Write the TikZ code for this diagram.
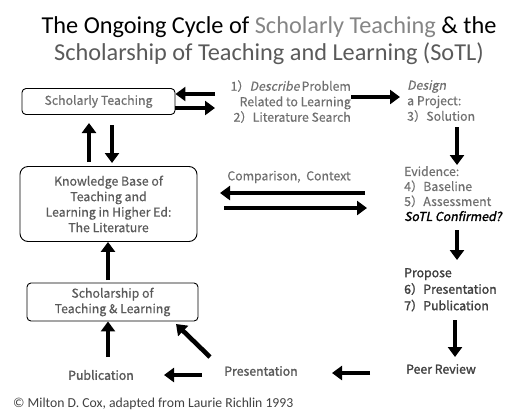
\documentclass[tikz,border=0pt]{standalone}
\usepackage{fontspec}
\setmainfont{Carlito}
\newfontfamily\gothic{Noto Sans CJK JP}[
  UprightFeatures={FakeBold=0.5},
  ItalicFont=Noto Sans CJK JP, ItalicFeatures={FakeSlant=0.2,FakeBold=0.5},
  BoldFont=Noto Sans CJK JP, BoldFeatures={FakeBold=1.6},
  BoldItalicFont=Noto Sans CJK JP, BoldItalicFeatures={FakeBold=1.6,FakeSlant=0.2}]
\usetikzlibrary{arrows.meta,positioning}
\definecolor{titlegray}{HTML}{858585}
\definecolor{subgray}{HTML}{5A5A5A}
\definecolor{bodygray}{HTML}{707070}
\definecolor{darkgray}{HTML}{404040}
\tikzset{
  cyclebox/.style={draw=black,rounded corners=4pt,line width=0.9pt,align=center,
    font=\gothic\fontsize{12.3}{15.5}\selectfont,text=bodygray,inner sep=2pt},
  cyclenote/.style={inner sep=0pt,font=\gothic\fontsize{12.3}{15.5}\selectfont,text=bodygray},
  cycledark/.style={cyclenote,text=darkgray,font=\gothic\bfseries\fontsize{12.3}{16.5}\selectfont},
  cyclearrow/.style={-{Triangle[length=10pt,width=14pt]},line width=4.6pt,draw=black}
}
\begin{document}
\begin{tikzpicture}[x=1pt,y=-1pt]
  \useasboundingbox (0,0) rectangle (505,410);
  % heading
  \node[font=\fontsize{24.3}{27}\selectfont,align=center] (title) at (269,41)
    {The Ongoing Cycle of {\color{titlegray}Scholarly Teaching} \& the\\
     {\color{subgray}Scholarship of Teaching and Learning (SoTL)}};
  % the three boxes on the left
  \node[cyclebox,minimum width=153pt,minimum height=26pt] (scholarly) at (98.5,101.5) {Scholarly Teaching};
  \node[cyclebox,rounded corners=8pt,minimum width=177pt,minimum height=75pt,text=subgray] (knowledge) at (108.5,204)
    {Knowledge Base of\\Teaching and\\Learning in Higher Ed:\\The Literature};
  \node[cyclebox,minimum width=171pt,minimum height=38pt,text=subgray] (sotl) at (112.5,302)
    {Scholarship of\\Teaching \& Learning};
  % steps of the project
  \node[cyclenote,align=right,anchor=north east] (describe) at (351,80)
    {1）\textit{Describe}\,Problem\\Related to Learning\\2）Literature Search};
  \node[cyclenote,align=left,anchor=north west] (design) at (407,80)
    {\textit{Design}\\a Project:\\3）Solution};
  \node[cyclenote,align=left,anchor=north west,font=\gothic\fontsize{12.3}{15}\selectfont] (evidence) at (404,166)
    {Evidence:\\4）Baseline\\5）Assessment\\{\color{black}\bfseries\itshape SoTL Confirmed?}};
  \node[cyclenote] (context) at (289,177) {Comparison,\ \ Context};
  \node[cycledark,align=left,anchor=north west] (propose) at (404,268)
    {Propose\\6）Presentation\\7）Publication};
  \node[cycledark] (review) at (441,369) {Peer Review};
  \node[cycledark,text=subgray] (presentation) at (261,371) {Presentation};
  \node[cycledark,text=subgray] (publication) at (101,375) {Publication};
  \node[anchor=base west,inner sep=0pt,font=\fontsize{13.7}{15}\selectfont,text=darkgray] (credit) at (13,407)
    {© Milton D. Cox, adapted from Laurie Richlin 1993};
  % free arrow ends
  \coordinate (stIn) at (215,94);
  \coordinate (stOut) at (215,108);
  \coordinate (stUp) at (89,162);
  \coordinate (stUpEnd) at (89,123);
  \coordinate (stDown) at (112,125);
  \coordinate (stDownEnd) at (112,163);
  \coordinate (toDesign) at (400,97);
  \coordinate (fromDesign) at (457,127);
  \coordinate (toEvidence) at (457,165);
  \coordinate (cmpIn) at (365,193);
  \coordinate (cmpInEnd) at (220,193);
  \coordinate (cmpOut) at (224,208);
  \coordinate (cmpOutEnd) at (367,208);
  \coordinate (fromEvidence) at (457,230);
  \coordinate (toPropose) at (457,260);
  \coordinate (fromPropose) at (455,320);
  \coordinate (toReview) at (455,357);
  \coordinate (fromReview) at (370,373);
  \coordinate (toPresentation) at (332,373);
  \coordinate (fromPresentation) at (202,375);
  \coordinate (toPublication) at (164,375);
  \coordinate (diagStart) at (210,357);
  \coordinate (diagEnd) at (176,324);
  \coordinate (pubUp) at (108,357);
  \coordinate (litUp) at (108,280);
  % arrows
  \draw[cyclearrow] (stIn) -- (stIn -| scholarly.east);
  \draw[cyclearrow] (stOut -| scholarly.east) -- (stOut);
  \draw[cyclearrow] (describe.east |- toDesign) -- (toDesign);
  \draw[cyclearrow] (fromDesign) -- (toEvidence);
  \draw[cyclearrow] (cmpIn) -- (cmpInEnd);
  \draw[cyclearrow] (cmpOut) -- (cmpOutEnd);
  \draw[cyclearrow] (fromEvidence) -- (toPropose);
  \draw[cyclearrow] (fromPropose) -- (toReview);
  \draw[cyclearrow] (fromReview) -- (toPresentation);
  \draw[cyclearrow] (fromPresentation) -- (toPublication);
  \draw[cyclearrow] (diagStart) -- (diagEnd);
  \draw[cyclearrow] (pubUp) -- (pubUp |- sotl.south);
  \draw[cyclearrow] (litUp) -- (litUp |- knowledge.south);
  \draw[cyclearrow] (stUp) -- (stUpEnd);
  \draw[cyclearrow] (stDown) -- (stDownEnd);
\end{tikzpicture}
\end{document}
